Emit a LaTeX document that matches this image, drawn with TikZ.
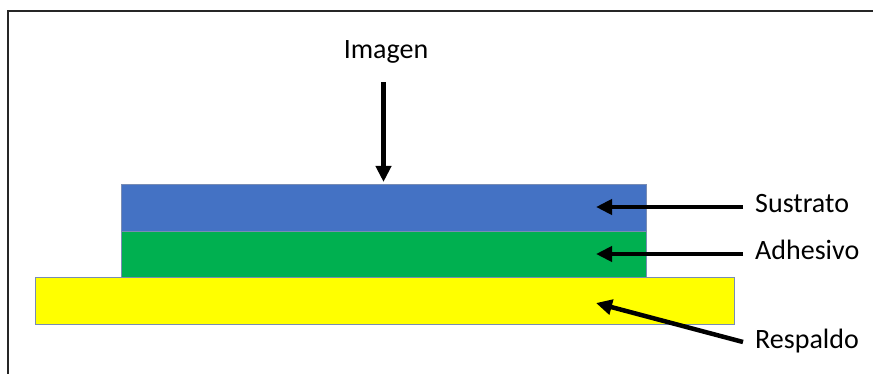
\documentclass[tikz,border=0pt]{standalone}
\usepackage{fontspec}
\setmainfont{Carlito}
\usepackage{xcolor}
\definecolor{layerblue}{RGB}{68, 114, 196}
\definecolor{layergreen}{RGB}{0, 176, 80}
\definecolor{layeryellow}{RGB}{255, 255, 0}
\definecolor{layeredge}{RGB}{120, 140, 180}
\usepackage{tikz}
\usetikzlibrary{arrows.meta, positioning, calc}

\begin{document}
\begin{tikzpicture}[x=1pt, y=-1pt, >={Triangle[length=16pt, width=15pt]},
    layer/.style={draw=layeredge, line width=0.8pt, anchor=north west, inner sep=0pt, outer sep=0pt},
    tag/.style={anchor=base west, inner xsep=12pt, inner ysep=0pt, text height=12pt, text depth=0pt,
                font=\fontsize{28}{32}\selectfont},
    pointer/.style={->, line width=4.5pt}]
    \useasboundingbox (0,0) rectangle (873,374);
    \draw[line width=2pt, black!85] (873,11) -- (8,11) -- (8,374);

    % the three layers, bottom first
    \node[layer, fill=layeryellow, minimum width=699pt, minimum height=47pt] (respaldo) at (35,277) {};
    \node[layer, fill=layergreen, minimum width=525pt, minimum height=46pt] (adhesivo) at (121,231) {};
    \node[layer, fill=layerblue, minimum width=525pt, minimum height=47pt] (sustrato) at (121,184) {};

    \coordinate (sus tip) at (596,207);
    \coordinate (adh tip) at (596,254);
    \coordinate (res tip) at (596,303);

    \node[tag, anchor=base] (imagen) at (386,59) {Imagen};
    \node[tag] (sus) at (743,213) {Sustrato};
    \node[tag] (adh) at (743,260) {Adhesivo};
    \node[tag] (res) at (743,348) {Respaldo};

    \draw[pointer, shorten <=23pt, shorten >=2pt] (sustrato.north |- imagen.south) -- (sustrato.north);
    \draw[pointer] (sus.west) -- (sus tip);
    \draw[pointer] (adh.west) -- (adh tip);
    \draw[pointer] (res.west) -- (res tip);
\end{tikzpicture}
\end{document}
